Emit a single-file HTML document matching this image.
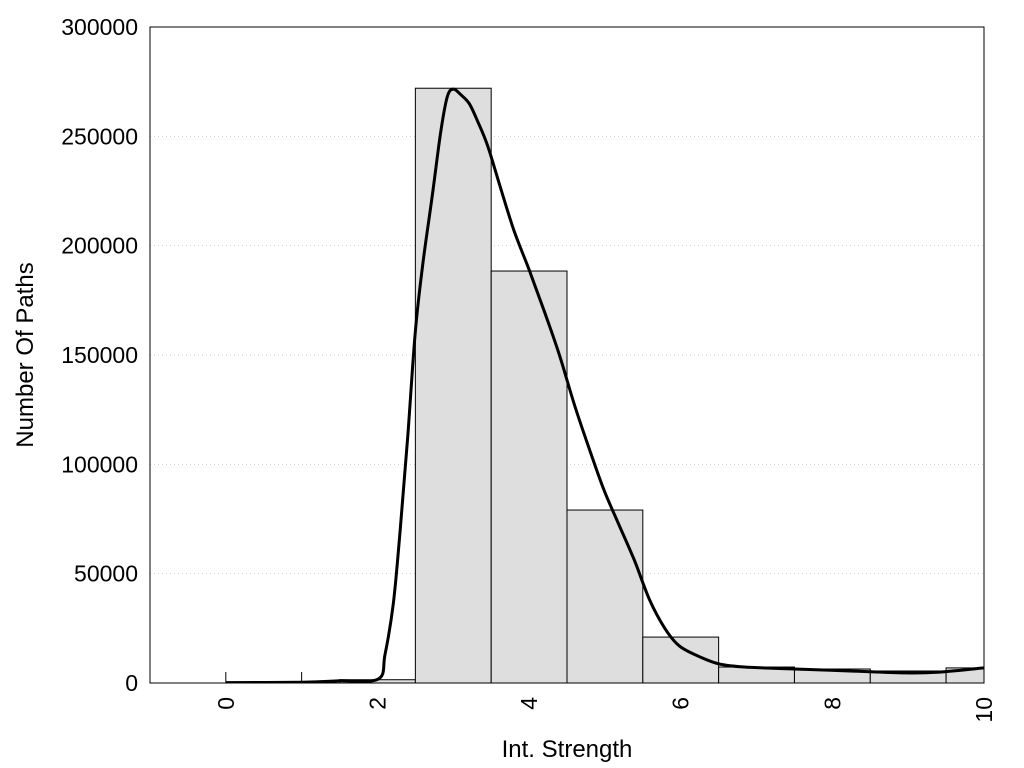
<!DOCTYPE html>
<html><head><meta charset="utf-8"><style>
html,body{margin:0;padding:0;background:#fff;}
svg{display:block;font-family:"Liberation Sans",Arial,sans-serif;}
</style></head><body>
<svg id="chart" width="1024" height="768"></svg>
<script>
const binCenters=[0,1,2,3,4,5,6,7,8,9,10];
const binCounts=[0,0,1500,272000,188400,79100,21000,7300,6400,5500,6900];
const curveX=[0,1,1.5,2.01,2.1,2.21,2.3,2.4,2.5,2.6,2.72,2.83,2.92,3.0,3.1,3.21,3.32,3.45,3.61,3.8,4.0,4.2,4.4,4.6,4.8,4.99,5.19,5.39,5.59,5.79,5.98,6.25,6.51,6.84,7.5,8.23,8.96,9.42,10];
const curveY=[200,300,1000,1800,13000,36600,70000,113000,161000,192000,222000,251000,268000,271600,269000,265000,257000,246000,228000,207000,189000,170000,150000,127000,106500,88000,72000,56000,38000,25000,17000,12000,8700,7300,6400,5500,4600,5000,6900];
const yTicks=[0,50000,100000,150000,200000,250000,300000];
const xTicks=[0,2,4,6,8,10];
const L=150,R=984,T=27,B=683,xmin=-1,xmax=10,ymax=300000;
const sx=v=>L+(v-xmin)/(xmax-xmin)*(R-L);
const sy=v=>B-v/ymax*(B-T);
const svg=document.getElementById('chart');
const NS='http://www.w3.org/2000/svg';
function mk(tag,attrs,parent){const e=document.createElementNS(NS,tag);for(const k in attrs)e.setAttribute(k,attrs[k]);(parent||svg).appendChild(e);return e;}
yTicks.forEach(v=>{if(v>0&&v<ymax){const g=mk('line',{x1:L,x2:R,y1:sy(v),y2:sy(v),stroke:'#ccc','stroke-dasharray':'1,3','stroke-width':1});

}});
const cp=mk('clipPath',{id:'clip'});mk('rect',{x:L,y:T,width:R-L,height:B-T},cp);
const bars=mk('g',{'clip-path':'url(#clip)'});


binCenters.forEach((c,i)=>{const y=sy(binCounts[i]);const r=mk('rect',{x:sx(c-0.5),y:y,width:sx(c+0.5)-sx(c-0.5),height:B-y,fill:'#dedede',stroke:'#000','stroke-width':1},bars);

});
[0,1].forEach(c=>{const l=mk('line',{x1:sx(c),x2:sx(c),y1:B,y2:B-11,stroke:'#000'});

});
// smooth curve (Catmull-Rom)
const P=curveX.map((x,i)=>[sx(x),sy(curveY[i])]);
let d='M'+P[0][0].toFixed(1)+','+P[0][1].toFixed(1);
for(let i=0;i<P.length-1;i++){const p0=P[Math.max(0,i-1)],p1=P[i],p2=P[i+1],p3=P[Math.min(P.length-1,i+2)];
const c1=[p1[0]+(p2[0]-p0[0])/6,p1[1]+(p2[1]-p0[1])/6],c2=[p2[0]-(p3[0]-p1[0])/6,p2[1]-(p3[1]-p1[1])/6];
d+='C'+c1[0].toFixed(1)+','+c1[1].toFixed(1)+' '+c2[0].toFixed(1)+','+c2[1].toFixed(1)+' '+p2[0].toFixed(1)+','+p2[1].toFixed(1);}
const p=mk('path',{d:d,fill:'none',stroke:'#000','stroke-width':3,'stroke-linejoin':'round','clip-path':'url(#clip)'});


const f=mk('rect',{x:L,y:T,width:R-L,height:B-T,fill:'none',stroke:'#000','stroke-width':1});


yTicks.forEach(v=>{const t=mk('text',{x:138,y:sy(v)+8,'text-anchor':'end','font-size':23,fill:'#000'});t.textContent=v;

});
xTicks.forEach(v=>{const x=sx(v);const t=mk('text',{x:0,y:0,'text-anchor':'end','font-size':23,transform:'translate('+(x+8)+',697) rotate(-90)'});t.textContent=v;

});
const xt=mk('text',{x:567,y:757,'text-anchor':'middle','font-size':24});xt.textContent='Int. Strength';


const yt=mk('text',{x:0,y:0,'text-anchor':'middle','font-size':24,transform:'translate(33,355) rotate(-90)'});yt.textContent='Number Of Paths';


</script>
</body></html>
